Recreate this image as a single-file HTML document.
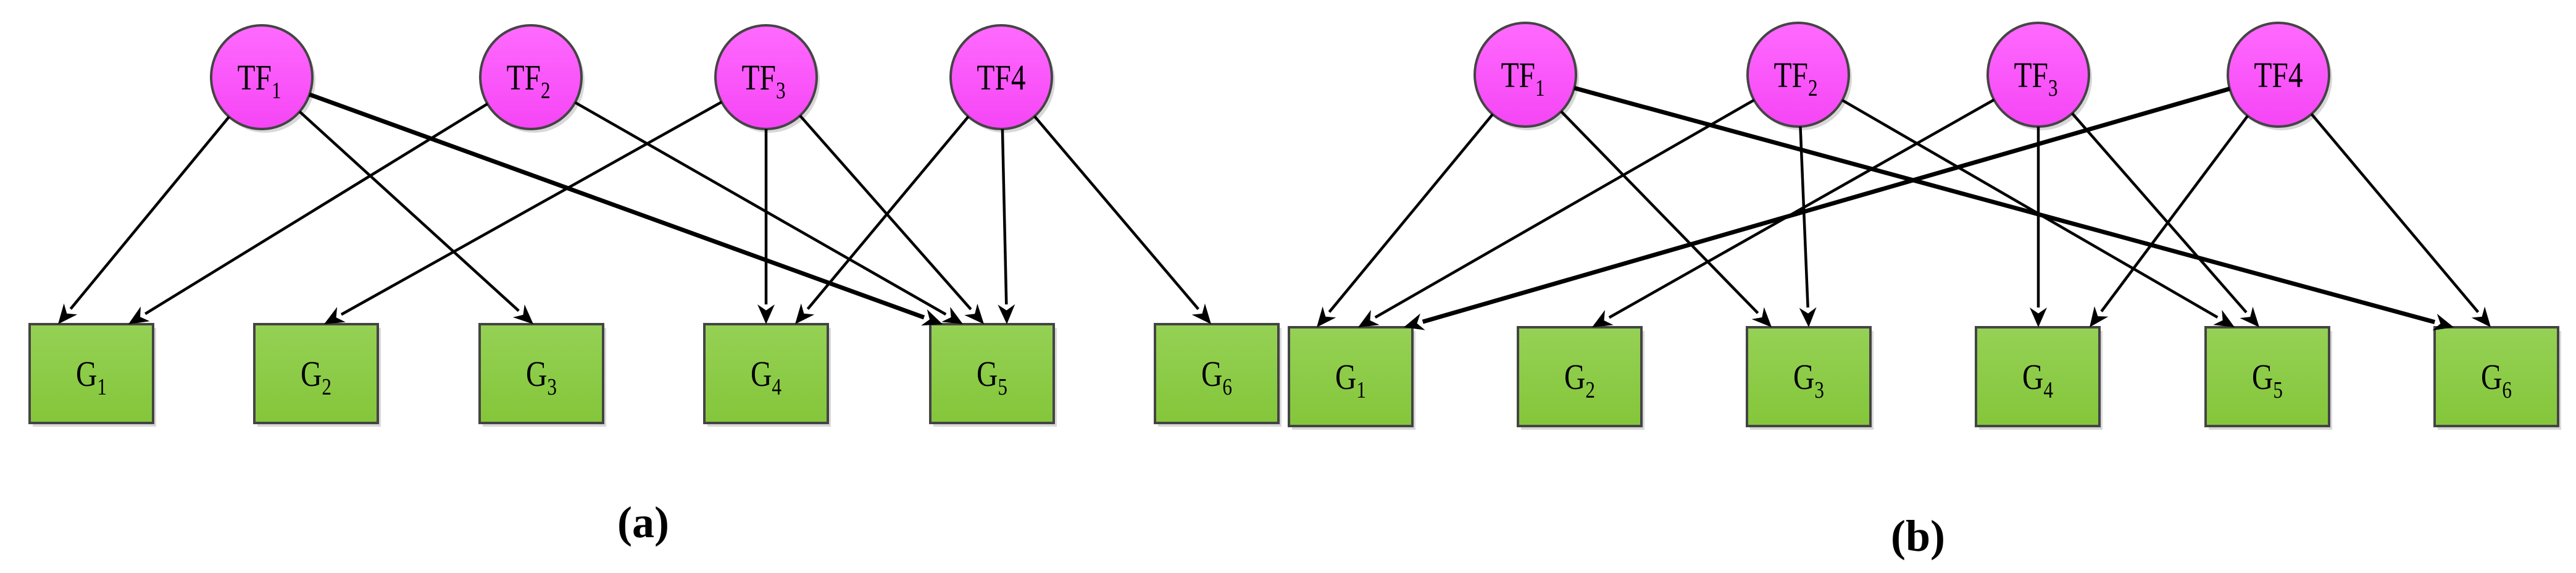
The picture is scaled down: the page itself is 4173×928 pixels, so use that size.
<!DOCTYPE html>
<html><head><meta charset="utf-8"><style>
html,body{margin:0;padding:0;background:#fff;width:4173px;height:928px;overflow:hidden}
svg text{font-family:"Liberation Serif",serif;}
</style></head><body>
<svg id="s" width="4173" height="928" viewBox="0 0 4173 928" xmlns="http://www.w3.org/2000/svg">
<defs>
<linearGradient id="gm" x1="0" y1="0" x2="0" y2="1"><stop offset="0" stop-color="#ff6aff"/><stop offset="1" stop-color="#f545f5"/></linearGradient>
<linearGradient id="gg" x1="0" y1="0" x2="0" y2="1"><stop offset="0" stop-color="#95d155"/><stop offset="1" stop-color="#84c63a"/></linearGradient>
</defs>
<g id="shapes"></g>
<g id="edges"></g>
<text x="1042" y="870" font-size="72" font-weight="bold" text-anchor="middle">(a)</text>
<text x="3107" y="892" font-size="72" font-weight="bold" text-anchor="middle">(b)</text>
</svg>
<script>
var NS="http://www.w3.org/2000/svg";
var S=document.getElementById("shapes"),E=document.getElementById("edges");
function el(t,a,p){var e=document.createElementNS(NS,t);for(var k in a)e.setAttribute(k,a[k]);(p||S).appendChild(e);return e;}
function label(x,y,main,sub){var t=el("text",{x:x,y:y,"font-size":58,"text-anchor":"middle",transform:"translate("+x+" 0) scale(0.82 1) translate("+(-x)+" 0)"});
 t.appendChild(document.createTextNode(main));
 if(sub){var s=el("tspan",{"font-size":38,dy:14},t);s.textContent=sub;}}
var RX=82,RY=84;
function panel(tfs,ty,boxes,by,edges){
 tfs.forEach(function(c,i){
  el("ellipse",{cx:c+5,cy:ty+6,rx:RX,ry:RY,fill:"#d8d8d8"});
  el("ellipse",{cx:c,cy:ty,rx:RX,ry:RY,fill:"url(#gm)",stroke:"#444","stroke-width":4});
  if(i<3)label(c-4,ty+20,"TF",String(i+1));else label(c,ty+20,"TF4","");
 });
 boxes.forEach(function(x,i){
  el("rect",{x:x+5,y:by+6,width:200,height:160,fill:"#d8d8d8"});
  el("rect",{x:x,y:by,width:200,height:160,fill:"url(#gg)",stroke:"#444","stroke-width":4});
  label(x+100,by+100,"G",String(i+1));
 });
 edges.forEach(function(e){
  var cx=tfs[e[0]],cy=ty,tx=e[1],tyy=by;
  var dx=tx-cx,dy=tyy-cy,L=Math.sqrt(dx*dx+dy*dy),ux=dx/L,uy=dy/L;
  var t=1/Math.sqrt((ux*ux)/(RX*RX)+(uy*uy)/(RY*RY));
  var sx=cx+ux*t,sy=cy+uy*t;
  var hl=32,hw=14;
  var bx=tx-ux*hl,byy=tyy-uy*hl;
  el("line",{x1:sx,y1:sy,x2:bx,y2:byy,stroke:"#000","stroke-width":e[2]?7:4.5},E);
  var px=-uy,py=ux;
  el("polygon",{points:tx+","+tyy+" "+(bx+px*hw)+","+(byy+py*hw)+" "+(tx-ux*hl*0.7)+","+(tyy-uy*hl*0.7)+" "+(bx-px*hw)+","+(byy-py*hw),fill:"#000"},E);
 });
}
panel([424,860,1241,1622],125,[48,412,777,1141,1507,1871],525,
 [[0,94],[0,864],[0,1527,1],[1,208],[1,1560],[2,525],[2,1241],[2,1594],[3,1288],[3,1631],[3,1962]]);
panel([2471,2913,3302,3691],121,[2088,2459,2830,3201,3573,3944],530,
 [[0,2133],[0,2870],[0,3975,1],[1,2200],[1,2930],[1,3620],[2,2579],[2,3302],[2,3660],[3,2274,1],[3,3385],[3,4035]]);
</script>
</body></html>
